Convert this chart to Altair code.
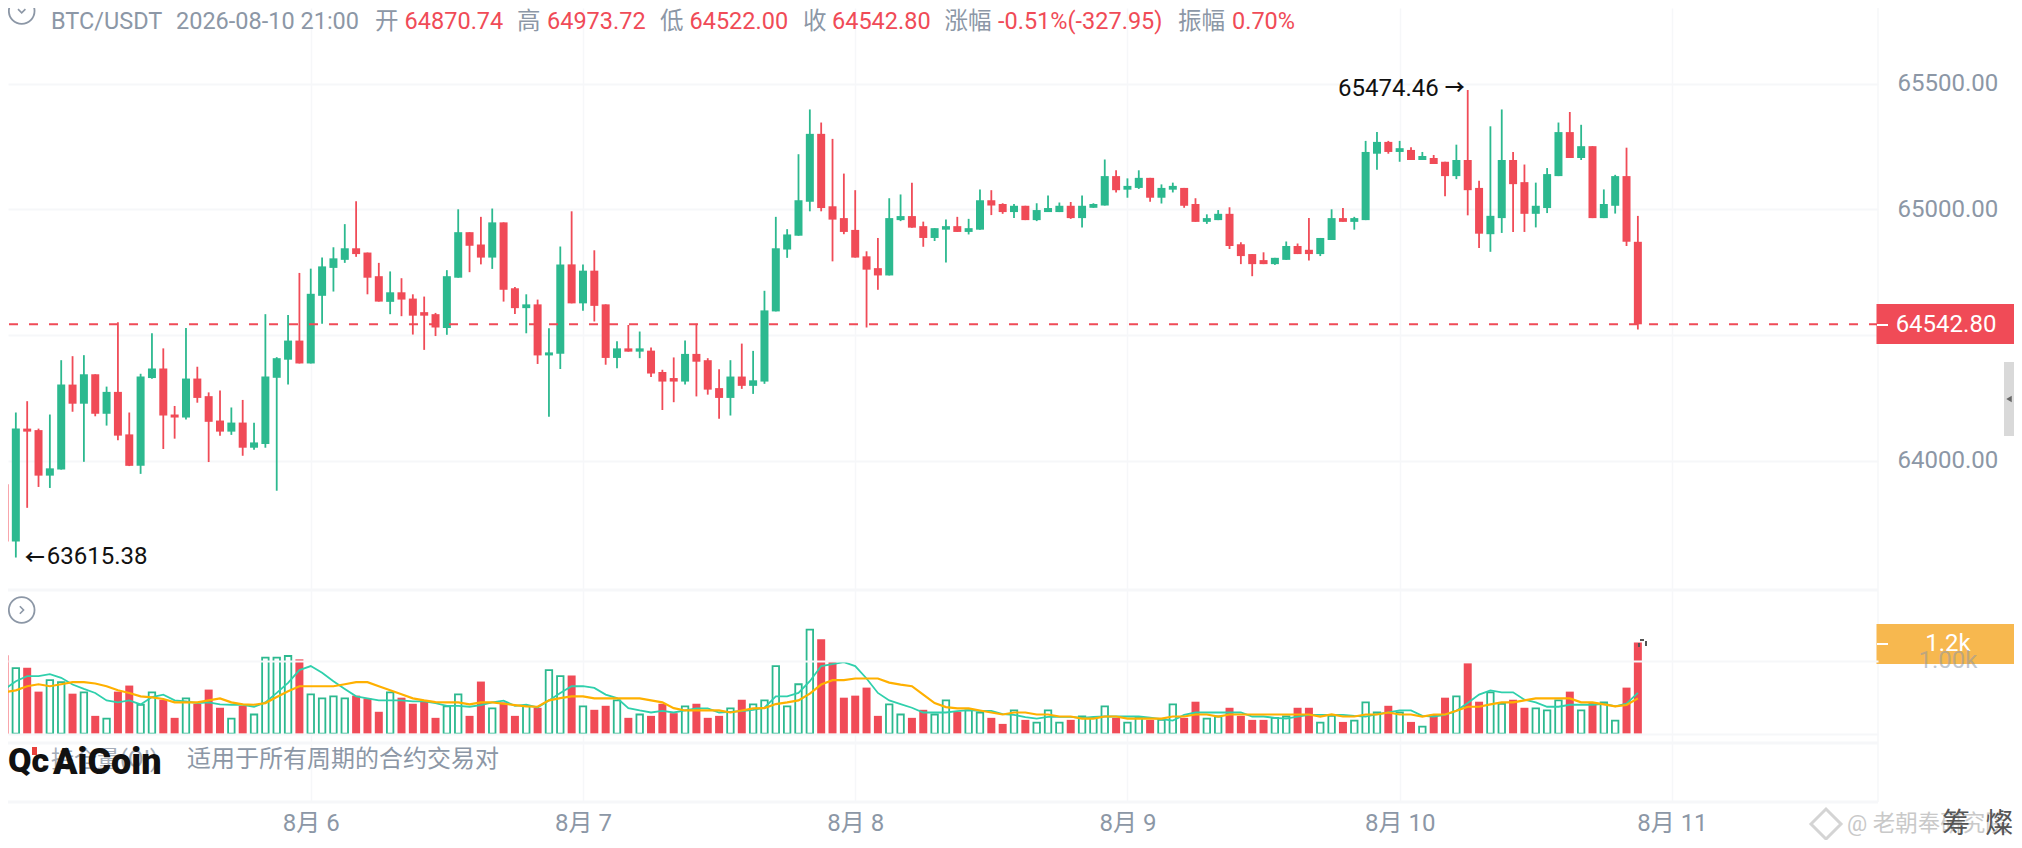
import altair as alt
import pandas as pd

opens = [63907,63679,64128,64122,63941,63965,64303,64227,64344,64187,64274,64105,63980,64329,64367,64184,64172,64327,64257,64160,64116,64152,64052,64067,64330,64402,64478,
64387,64656,64767,64799,64845,64828,64734,64632,64670,64645,64591,64583,64528,64728,64909,64860,64808,64948,64686,64607,64622,64419,64426,64781,
64626,64756,64622,64409,64447,64434,64438,64353,64329,64315,64425,64400,64289,64250,64335,64298,64315,64594,64840,64895,65030,65300,65012,64965,
64918,64813,64766,64737,64957,64973,64933,64886,64919,64933,64910,64919,65036,65021,64989,65014,64957,64989,64989,65014,64965,65006,65015,65132,
65078,65085,65125,65046,65078,65085,65021,64950,64957,64982,64861,64822,64798,64782,64799,64854,64839,64822,64878,64965,64950,64957,65221,65268,
65228,65236,65196,65204,65189,65132,65196,65085,64901,64965,65196,65108,64982,65005,65132,65307,65204,65251,64965,65014,65132,64870.74]
closes = [63679,64128,64116,63941,63970,64303,64227,64344,64187,64274,64100,63980,64335,64367,64180,64172,64327,64250,64155,64116,64152,64052,64073,64335,64408,64478,64387,
64664,64773,64805,64845,64822,64728,64633,64670,64641,64577,64577,64530,64734,64909,64855,64808,64948,64680,64607,64622,64419,64431,64781,64626,
64756,64616,64409,64447,64434,64447,64347,64315,64315,64425,64394,64283,64250,64335,64298,64320,64598,64845,64900,65036,65300,65005,64959,64910,
64808,64760,64737,64965,64973,64927,64886,64925,64933,64910,64925,65036,65015,64989,65014,64957,64997,65005,65014,64965,65014,65021,65132,65076,
65093,65125,65046,65085,65093,65014,64950,64965,64982,64854,64814,64782,64782,64807,64854,64822,64822,64886,64965,64950,64965,65228,65268,65228,
65243,65196,65212,65180,65132,65196,65076,64903,64974,65196,65100,64982,65014,65140,65307,65204,65251,64965,65021,65132,64871,64542.80]
highs = [64097,64192,64237,64128,64184,64400,64416,64420,64344,64295,64551,64192,64346,64507,64447,64218,64528,64374,64272,64280,64212,64242,64151,64583,64412,64580,64747,
64764,64808,64849,64941,65032,64828,64787,64753,64726,64662,64653,64588,64758,65000,64909,64970,65003,64948,64691,64662,64641,64527,64852,64992,
64781,64837,64622,64475,64540,64514,64450,64362,64411,64478,64545,64408,64364,64400,64466,64437,64676,64970,64921,65219,65397,65345,65280,65142,
65076,64833,64886,65044,65059,65106,64951,64925,64959,64970,64962,65079,65076,65024,65021,65014,65024,65055,65027,65029,65055,65024,65198,65155,
65123,65155,65125,65099,65106,65085,65044,64980,64997,65008,64869,64822,64829,64807,64872,64864,64965,64886,65000,65005,64970,65272,65307,65272,
65272,65247,65228,65216,65189,65257,65474.46,65114,65330,65397,65228,65178,65106,65164,65345,65387,65336,65251,65079,65137,65245,64973.72]
lows = [63656,63615.38,63813,63896,63892,63965,64195,63996,64177,64140,64082,63979,63948,64326,64047,64088,64164,64231,63995,64100,64103,64020,64044,64052,63881,64303,64387,
64387,64545,64673,64787,64811,64662,64633,64583,64575,64502,64441,64496,64501,64728,64750,64781,64763,64633,64584,64507,64385,64175,64365,64626,
64597,64554,64382,64368,64434,64408,64333,64202,64233,64303,64256,64263,64167,64180,64286,64266,64306,64594,64807,64895,64992,64992,64793,64901,
64808,64530,64680,64737,64953,64927,64851,64874,64788,64910,64900,64919,64977,64982,64965,64957,64953,64989,64989,64962,64928,65006,65015,65067,
65046,65081,65030,65023,65067,65006,64950,64942,64957,64842,64782,64734,64782,64779,64799,64822,64796,64814,64878,64950,64919,64957,65157,65221,
65189,65196,65196,65180,65052,65120,64976,64846,64831,64906,64910,64910,64928,64985,65132,65204,65196,64965,64965,64983,64854,64522.00]
volumes = [1074,899,903,576,733,705,548,567,244,207,576,659,396,567,465,217,484,410,604,355,207,382,263,1041,1041,1064,1018,
539,484,511,484,521,484,300,567,493,410,456,217,373,539,244,714,346,429,244,382,355,871,788,797,
373,327,382,456,217,263,244,410,281,373,410,217,244,346,465,401,456,926,373,677,1424,1295,991,493,
521,631,244,401,263,217,327,263,456,300,318,290,217,134,318,189,152,318,152,189,235,217,373,217,
152,217,189,189,401,217,438,207,235,355,244,189,189,217,235,355,355,152,244,161,180,429,290,382,
290,161,97,263,493,511,963,438,567,410,465,355,346,318,456,576,318,419,429,180,631,1249]
ma_fast = [604,719,788,788,816,765,673,613,558,456,429,456,401,502,535,456,442,419,429,401,396,396,369,429,558,696,871,
926,834,719,613,511,484,456,456,456,442,442,419,382,382,369,392,429,452,382,396,359,456,558,650,
650,627,535,488,350,318,290,313,290,318,346,346,290,300,309,327,355,511,511,558,719,926,954,981,
926,756,558,456,406,355,290,290,290,309,323,313,313,267,258,226,207,230,230,230,217,230,235,235,
235,235,221,198,180,258,290,290,290,290,290,235,235,217,207,235,258,258,258,258,244,235,267,290,
318,318,244,235,258,313,419,535,594,567,567,465,429,369,369,396,396,396,410,373,410,558]
ma_slow = [567,594,650,677,650,677,705,705,687,650,594,558,511,498,475,429,429,429,456,484,429,401,396,419,502,581,650,
650,650,650,677,705,705,650,594,539,484,456,433,429,429,401,429,429,410,392,373,369,456,488,511,
511,484,484,484,484,484,456,429,350,318,318,318,318,290,318,346,350,406,429,456,548,673,733,733,
756,756,756,700,673,650,535,419,364,346,346,318,290,263,290,290,263,263,235,235,207,207,235,235,
207,207,207,207,235,235,263,263,235,263,263,263,263,263,263,263,263,235,263,235,235,263,263,290,
263,263,235,263,263,313,369,369,401,429,429,456,484,484,484,484,429,429,401,373,392,484]
day_ticks = [0, 24, 48, 72, 96, 120]
price_ticks = [65500, 65000, 64500, 64000]
last_price = [64542.80]
extremes_high = [65474.46]
extremes_low = [63615.38]

FONT = "Roboto, 'Noto Sans CJK SC', sans-serif"
RED, GREEN, GRAY = "#f04b57", "#2cb98f", "#8c97a6"
GRID = "#f6f7f9"
PLOT_W, PLOT_H = 1870, 794
price_dom = [62643.3, 65800.4]
vol_dom = [-936, 9941]
hour_dom = [-26.25, 137.73]

df = pd.DataFrame({"h": range(-27, 118), "o": opens, "c": closes, "hi": highs, "lo": lows, "v": volumes,
                   "fast": ma_fast, "slow": ma_slow, "base": 0})
up = df[df.c >= df.o]
down = df[df.c < df.o]

X = alt.X("h:Q", scale=alt.Scale(domain=hour_dom, nice=False, zero=False), title=None,
          axis=alt.Axis(values=day_ticks, labelExpr="'8月 ' + (6 + datum.value / 24)", labelFontSize=24, labelFont=FONT,
                        labelColor=GRAY, labelPadding=9, tickSize=0, domain=False, grid=True, gridColor=GRID,
                        gridWidth=1.5, labelFlush=False))
P = alt.Scale(domain=price_dom, nice=False, zero=False)
V = alt.Scale(domain=vol_dom, nice=False, zero=False)
price_axis = alt.Axis(values=price_ticks, orient="right", labelExpr="datum.value == 64500 ? '' : format(datum.value, '.2f')",
                      labelFontSize=24, labelFont=FONT, labelColor=GRAY, labelPadding=19, tickSize=0, domain=False,
                      grid=True, gridColor=GRID, gridWidth=2, title=None)
vol_axis = alt.Axis(values=[0, 1000], orient="right", labelExpr="datum.value == 1000 ? '1.00k' : ''", labelFontSize=24,
                    labelFont=FONT, labelColor=GRAY, labelOpacity=0.55, labelPadding=40, tickSize=0, domain=False, grid=True,
                    gridColor=GRID, gridWidth=2, title=None, zindex=1)
PY = lambda f: alt.Y(f, scale=P, axis=price_axis)
VY = lambda f: alt.Y(f, scale=V, axis=vol_axis)

def wicks(data, color):
    return alt.Chart(data).mark_rule(color=color, strokeWidth=1.8, clip=True).encode(x=X, y=PY("hi:Q"), y2="lo:Q")

def bodies(data, color):
    return alt.Chart(data).mark_bar(color=color, size=8, clip=True).encode(x=X, y=PY("o:Q"), y2="c:Q")

one = pd.DataFrame({"k": [0]})

def rx(x):
    return alt.value(x - 8)

def ry(y):
    return alt.value(y - 8)

def txt(s, x, y, color=GRAY, size=23.5, align="left", weight=400, opacity=1.0):
    return alt.Chart(pd.DataFrame({"t": [s]})).mark_text(align=align, baseline="middle", font=FONT, fontSize=size,
                                                        color=color, fontWeight=weight, opacity=opacity).encode(
        x=rx(x), y=ry(y), text="t:N")

def box(x1, x2, y1, y2, color):
    return alt.Chart(one).mark_rect(color=color).encode(x=rx(x1), x2=rx(x2), y=ry(y1), y2=ry(y2))

def hline(y, x1, x2, color=GRID, w=3):
    return alt.Chart(one).mark_rule(color=color, strokeWidth=w).encode(x=rx(x1), x2=rx(x2), y=ry(y))

def vline(x, y1, y2, color=GRID, w=1.5):
    return alt.Chart(one).mark_rule(color=color, strokeWidth=w).encode(x=rx(x), y=ry(y1), y2=ry(y2))

def icon(x, y, path):
    ring = alt.Chart(one).mark_point(shape="circle", size=660, filled=False, stroke=GRAY, strokeWidth=1.8, opacity=1).encode(
        x=rx(x), y=ry(y))
    arrow = alt.Chart(one).mark_point(shape=path, size=220, filled=False, stroke=GRAY, strokeWidth=1.6, opacity=1).encode(
        x=rx(x), y=ry(y))
    return ring + arrow

last_line = alt.Chart(pd.DataFrame({"p": last_price})).mark_rule(color=RED, strokeWidth=2, strokeDash=[9, 11]).encode(
    y=PY("p:Q"))
hi_text = alt.Chart(pd.DataFrame({"p": extremes_high, "h": [102], "t": ["65474.46"]})).mark_text(
    align="right", baseline="middle", font=FONT, fontSize=24, color="#111111", dx=-29, dy=-1).encode(
    x=X, y=PY("p:Q"), text="t:N")
hi_arrow = alt.Chart(pd.DataFrame({"p": extremes_high, "h": [102], "t": ["→"]})).mark_text(
    align="right", baseline="middle", font=FONT, fontSize=20, fontWeight=700, color="#111111", dx=-3, dy=-1).encode(
    x=X, y=PY("p:Q"), text="t:N")
lo_text = alt.Chart(pd.DataFrame({"p": extremes_low, "h": [-26], "t": ["63615.38"]})).mark_text(
    align="left", baseline="middle", font=FONT, fontSize=24, color="#111111", dx=31, dy=-1).encode(
    x=X, y=PY("p:Q"), text="t:N")
lo_arrow = alt.Chart(pd.DataFrame({"p": extremes_low, "h": [-26], "t": ["←"]})).mark_text(
    align="left", baseline="middle", font=FONT, fontSize=20, fontWeight=700, color="#111111", dx=9, dy=1).encode(
    x=X, y=PY("p:Q"), text="t:N")

price_layer = alt.layer(wicks(up, GREEN), wicks(down, RED), bodies(up, GREEN), bodies(down, RED),
                        last_line, hi_text, hi_arrow, lo_text, lo_arrow)

vol_up = alt.Chart(up).mark_bar(fill="white", stroke=GREEN, strokeWidth=1.8, size=6.5, clip=True).encode(
    x=X, y=VY("v:Q"), y2="base:Q")
vol_down = alt.Chart(down).mark_bar(color=RED, size=8, clip=True).encode(
    x=X, y=VY("v:Q"), y2="base:Q")
line_fast = alt.Chart(df).mark_line(color="#2fd0ac", strokeWidth=1.8, clip=True).encode(x=X, y=VY("fast:Q"))
line_slow = alt.Chart(df).mark_line(color="#ffb000", strokeWidth=2.2, clip=True).encode(x=X, y=VY("slow:Q"))
vol_layer = alt.layer(vol_up, vol_down, line_fast, line_slow)

header = [("BTC/USDT", 51, GRAY), ("2026-08-10 21:00", 176, GRAY), ("开", 375, GRAY), ("64870.74", 404.6, RED),
          ("高", 517, GRAY), ("64973.72", 547, RED), ("低", 660, GRAY), ("64522.00", 689.5, RED), ("收", 803, GRAY),
          ("64542.80", 832, RED), ("涨幅", 944.5, GRAY), ("-0.51%(-327.95)", 998, RED), ("振幅", 1178, GRAY), ("0.70%", 1232, RED)]
overlays = [txt(s, x, 21.5, c) for s, x, c in header]
overlays += [
    hline(590, 8, 1878), hline(743, 8, 1878), hline(802, 8, 1878), vline(1878, 8, 802),
    icon(21.7, 11, "M-0.5,-0.25L0,0.25L0.5,-0.25"),
    icon(21.7, 610, "M-0.25,-0.5L0.25,0L-0.25,0.5"),
    txt("持仓量(OI)", 51, 760, "#a4acb8", 23),
    txt("适用于所有周期的合约交易对", 187, 760, GRAY, 24),
    txt("Qc", 8, 762, "#111111", 34, weight=900),
    box(32, 37, 747, 755, "#e8413c"),
    txt("AiCoin", 53, 763, "#111111", 36, weight=900),
    box(1876.5, 2014, 304, 344, RED),
    hline(325, 1877, 1888, "white", 2),
    txt("64542.80", 1946, 325, "white", 24, "center"),
    box(1876.5, 2014, 624, 664, "#f7b84f"),
    hline(644, 1877, 1888, "white", 2),
    txt("1.2k", 1948, 644, "white", 24, "center"),
    box(1640, 1644, 639, 641, "#555555"), box(1638, 1640, 643, 647, "#555555"), box(1645, 1647, 641, 646, "#555555"),
    box(2004, 2014, 362, 436, "#d9d9d9"),
    alt.Chart(one).mark_point(shape="triangle-left", size=40, filled=True, color="#666666", opacity=1).encode(x=rx(2009), y=ry(399)),
    alt.Chart(one).mark_point(shape="diamond", size=900, filled=False, stroke="#d4d4d4", strokeWidth=3, opacity=1).encode(x=rx(1826), y=ry(824)),
    txt("@ 老朝奉研究院", 1847, 824, "#c9c9c9", 22.5),
    txt("筹", 1956, 825, "#555555", 28, "center"),
    txt("燦", 1999, 825, "#555555", 28, "center"),
]

chart = alt.layer(price_layer, vol_layer, *overlays).resolve_scale(y="independent").properties(
    width=PLOT_W, height=PLOT_H, background="white",
    autosize=alt.AutoSizeParams(type="none"),
    padding={"left": 0, "top": 0, "right": 136, "bottom": 38}).configure_view(stroke=None)

chart.save("out.html", embed_options={"renderer": "svg", "actions": False})
